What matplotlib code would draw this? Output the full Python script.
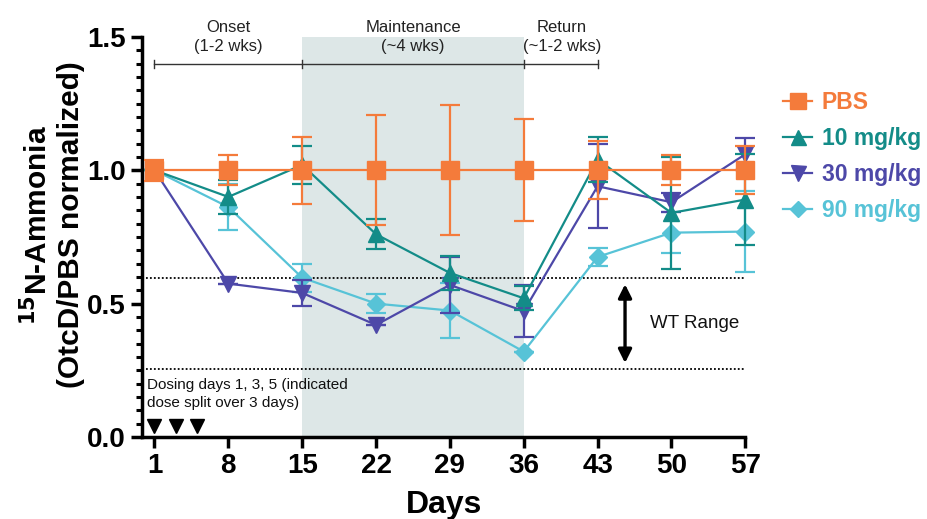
import matplotlib
matplotlib.use("Agg")
import matplotlib.pyplot as plt
from matplotlib.ticker import MultipleLocator
from matplotlib.lines import Line2D

plt.rcParams['font.family'] = ['Liberation Sans', 'DejaVu Sans']

days = [1, 8, 15, 22, 29, 36, 43, 50, 57]

pbs = [1.0, 1.0, 1.0, 1.0, 1.0, 1.0, 1.0, 1.0, 1.0]
pbs_err = [0.04, 0.057, 0.125, 0.206, 0.243, 0.192, 0.108, 0.057, 0.09]

mg10 = [1.0, 0.90, 1.02, 0.76, 0.615, 0.52, 1.04, 0.84, 0.89]
mg10_err = [0.0, 0.063, 0.072, 0.057, 0.065, 0.045, 0.085, 0.21, 0.17]

mg30 = [1.0, 0.575, 0.54, 0.42, 0.57, 0.472, 0.94, 0.88, 1.06]
mg30_err = [0.0, 0.0, 0.048, 0.0, 0.105, 0.097, 0.157, 0.035, 0.06]

mg90 = [1.0, 0.862, 0.597, 0.50, 0.474, 0.32, 0.675, 0.766, 0.77]
mg90_err = [0.0, 0.085, 0.052, 0.035, 0.104, 0.0, 0.035, 0.078, 0.152]

labels = ['PBS', '10 mg/kg', '30 mg/kg', '90 mg/kg']
colors = ['#F47B3B', '#138C88', '#4D48A8', '#57C3D7']
markers = ['s', '^', 'v', 'D']
msizes = [13, 12, 12, 9]

wt_low, wt_high = 0.255, 0.595
dose_days = [1, 3, 5]

phase_days = [1, 15, 36, 43]
phase_labels = ['Onset\n(1-2 wks)', 'Maintenance\n(~4 wks)', 'Return\n(~1-2 wks)']
phase_label_x = [8, 25.5, 39.6]

fig = plt.figure(figsize=(9.27, 5.19), dpi=100)
ax = fig.add_axes([0.153, 0.158, 0.651, 0.771])

ax.axvspan(15, 36, ymin=0, ymax=1, color='#DDE7E7', zorder=0, lw=0)

ax.axhline(wt_high, xmin=0, xmax=1, color='black', ls=(0, (1, 1.2)), lw=1.3, zorder=1)
ax.axhline(wt_low, xmin=0, xmax=1, color='black', ls=(0, (1, 1.2)), lw=1.3, zorder=1)

data = {0: (pbs, pbs_err), 1: (mg10, mg10_err), 2: (mg30, mg30_err), 3: (mg90, mg90_err)}
for z, i in enumerate([3, 2, 1, 0]):
    y, e = data[i]
    ax.errorbar(days, y, yerr=e, color=colors[i], marker=markers[i], ms=msizes[i],
                lw=1.6, elinewidth=1.6, capsize=7, capthick=1.6,
                zorder=3 + z, clip_on=False)

# Timeline
ax.plot([phase_days[0], phase_days[-1]], [1.40, 1.40], color='#333333', lw=1.0, zorder=2, clip_on=False)
for d in phase_days:
    ax.plot([d, d], [1.385, 1.415], color='#333333', lw=1.0, zorder=2, clip_on=False)
for tx, lab in zip(phase_label_x, phase_labels):
    ax.text(tx, 1.435, lab, ha='center', va='bottom', fontsize=12, color='#222222',
            linespacing=1.35, clip_on=False)

# WT range arrow
ax.annotate('', xy=(45.6, wt_low + 0.012), xytext=(45.6, wt_high - 0.012),
            arrowprops=dict(arrowstyle='<|-|>', color='black', lw=2.4, mutation_scale=20))
ax.text(48.0, 0.425, 'WT Range', ha='left', va='center', fontsize=13.5, color='#111111')

# Dosing
ax.text(0.3, 0.22, 'Dosing days 1, 3, 5 (indicated\ndose split over 3 days)', ha='left', va='top',
        fontsize=11, color='#111111', linespacing=1.3)
ax.plot(dose_days, [0.04] * len(dose_days), 'v', color='black', ms=10, zorder=5, clip_on=False)

ax.set_xlim(-0.2, 57)
ax.set_ylim(0, 1.5)
ax.set_xticks(days)
ax.set_yticks([0.0, 0.5, 1.0, 1.5])
ax.set_yticklabels(['0.0', '0.5', '1.0', '1.5'])
ax.yaxis.set_minor_locator(MultipleLocator(0.05))
for s in ['top', 'right']:
    ax.spines[s].set_visible(False)
for s in ['left', 'bottom']:
    ax.spines[s].set_linewidth(2.5)
ax.tick_params(axis='both', which='major', width=2.5, length=8, labelsize=20)
ax.tick_params(axis='y', which='minor', width=2.2, length=4)
for lab in ax.get_xticklabels() + ax.get_yticklabels():
    lab.set_fontweight('bold')

ax.set_xlabel('Days', fontsize=23, fontweight='bold', labelpad=8)
ax.set_ylabel('$\\mathbf{^{15}}$N-Ammonia\n(OtcD/PBS normalized)', fontsize=21.5, fontweight='bold',
              linespacing=1.15)
ax.yaxis.set_label_coords(-0.095, 0.53)

handles = [Line2D([], [], color=colors[i], marker=markers[i], ms=msizes[i] * 0.9, lw=1.6)
           for i in range(4)]
leg = fig.legend(handles, labels, loc='upper left',
                 bbox_to_anchor=(0.822, 0.865), frameon=False, handlelength=1.3,
                 handletextpad=0.4, labelspacing=0.57, prop={'weight': 'bold', 'size': 16.5})
for t, c in zip(leg.get_texts(), colors):
    t.set_color(c)

fig.savefig('out.png', dpi=100)
